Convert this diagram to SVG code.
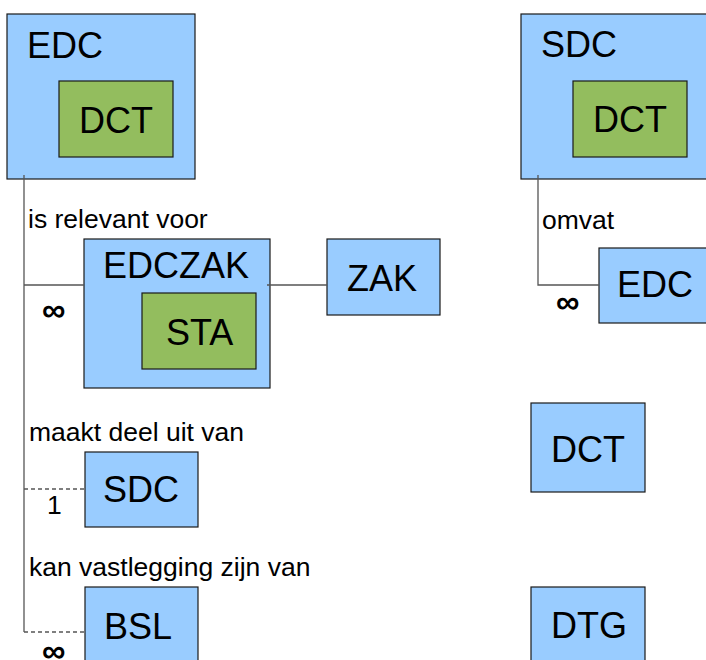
<svg xmlns="http://www.w3.org/2000/svg" width="706" height="660" viewBox="0 0 706 660">
  <style>
    .entity { fill: #99ccff; stroke: #1a1a1a; stroke-width: 1.2; }
    .attr { fill: #93bd5e; stroke: #1a1a1a; stroke-width: 1.2; }
    .name { font-family: "Liberation Sans", Arial, sans-serif; font-size: 36px; fill: #000; }
    .label { font-family: "Liberation Sans", Arial, sans-serif; font-size: 26.5px; fill: #000; }
    .many { font-family: "Liberation Sans", Arial, sans-serif; font-size: 33px; font-weight: bold; fill: #000; }
    .link { fill: none; stroke: #555; stroke-width: 1.3; }
    .opt { stroke-dasharray: 4 3; }
  </style>
  <rect width="706" height="660" fill="#fff"/>

  <!-- left column: EDC and its relations -->
  <g id="node-edc">
    <rect class="entity" x="7" y="14" width="188" height="165"/>
    <text class="name" x="27" y="58">EDC</text>
    <rect class="attr" x="59" y="81" width="114" height="76"/>
    <text class="name" x="79" y="133">DCT</text>
  </g>
  <g id="node-edczak">
    <rect class="entity" x="84" y="239" width="186" height="149"/>
    <text class="name" x="103" y="278">EDCZAK</text>
    <rect class="attr" x="142" y="293" width="114" height="76"/>
    <text class="name" x="166" y="345">STA</text>
  </g>
  <g id="node-zak">
    <rect class="entity" x="327" y="239" width="113" height="76"/>
    <text class="name" x="347" y="291">ZAK</text>
  </g>
  <g id="node-sdc-ref">
    <rect class="entity" x="85" y="452" width="113" height="75"/>
    <text class="name" x="103" y="502">SDC</text>
  </g>
  <g id="node-bsl">
    <rect class="entity" x="85" y="587" width="113" height="85"/>
    <text class="name" x="104" y="639">BSL</text>
  </g>

  <!-- right column: SDC and standalone entities -->
  <g id="node-sdc">
    <rect class="entity" x="521" y="14" width="192" height="165"/>
    <text class="name" x="541" y="57">SDC</text>
    <rect class="attr" x="573" y="81" width="114" height="76"/>
    <text class="name" x="593" y="132">DCT</text>
  </g>
  <g id="node-edc-ref">
    <rect class="entity" x="599" y="248" width="114" height="75"/>
    <text class="name" x="617" y="297">EDC</text>
  </g>
  <g id="node-dct">
    <rect class="entity" x="531" y="403" width="114" height="89"/>
    <text class="name" x="551" y="462">DCT</text>
  </g>
  <g id="node-dtg">
    <rect class="entity" x="531" y="587" width="114" height="85"/>
    <text class="name" x="551" y="638">DTG</text>
  </g>

  <!-- relations -->
  <g id="connectors">
    <path class="link" d="M24 175 V632"/>
    <path class="link" d="M24 285 H84"/>
    <path class="link" d="M267 285 H327"/>
    <path class="link opt" d="M24 489 H85"/>
    <path class="link opt" d="M24 632 H85"/>
    <path class="link" d="M538 175 V285 H599"/>
    <text class="label" x="28" y="228">is relevant voor</text>
    <text class="many" x="42" y="321">∞</text>
    <text class="label" x="29" y="441">maakt deel uit van</text>
    <text class="label" x="47" y="514">1</text>
    <text class="label" x="29" y="576">kan vastlegging zijn van</text>
    <text class="many" x="42" y="662">∞</text>
    <text class="label" x="542" y="229">omvat</text>
    <text class="many" x="556" y="313">∞</text>
  </g>
</svg>
